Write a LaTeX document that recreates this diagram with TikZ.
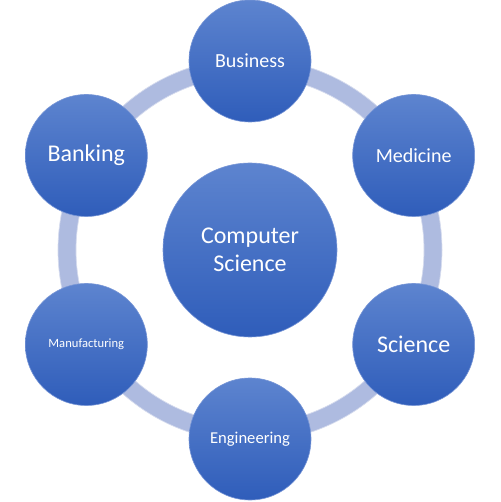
\documentclass[tikz,border=0pt]{standalone}
\usepackage{fontspec}
\setmainfont{Carlito}
\definecolor{blobtop}{RGB}{93,132,207}
\definecolor{blobbot}{RGB}{47,93,186}
\definecolor{blobedge}{RGB}{120,150,214}
\definecolor{ringfill}{RGB}{174,187,224}
\definecolor{ringedge}{RGB}{214,220,238}
\begin{document}
\begin{tikzpicture}[x=1pt, y=1pt,
    blob/.style={circle, draw=blobedge, line width=.6pt, top color=blobtop,
      bottom color=blobbot, text=white, inner sep=0pt, align=center}]
    \useasboundingbox (-250,-252) rectangle (250,250);
    % ring behind the circles
    \draw[ringfill, line width=18pt] (0,0) circle (183pt);
    \draw[ringedge, line width=.7pt] (0,0) circle (174pt);
    \draw[ringedge, line width=.7pt] (0,0) circle (192pt);
    \node[blob, minimum size=174pt, font=\fontsize{24}{28}\selectfont] (cs)
      at (0,0) {Computer\\Science};
    \foreach \a/\n/\t/\s in {90/bus/Business/20, 30/med/Medicine/20,
        -30/sci/Science/24, -90/eng/Engineering/16.6,
        -150/man/Manufacturing/12.6, 150/ban/Banking/24}
      \node[blob, minimum size=122pt, font=\fontsize{\s}{\s}\selectfont] (\n)
        at (\a:189pt) {\t};
  \end{tikzpicture}
\end{document}
